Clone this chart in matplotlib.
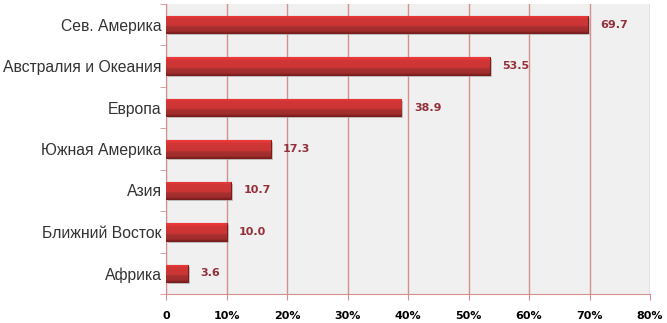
import matplotlib
matplotlib.use("Agg")
import matplotlib.pyplot as plt
import numpy as np
from matplotlib import transforms
from matplotlib.colors import LinearSegmentedColormap

categories = ["Сев. Америка", "Австралия и Океания", "Европа", "Южная Америка",
              "Азия", "Ближний Восток", "Африка"]
values = [69.7, 53.5, 38.9, 17.3, 10.7, 10.0, 3.6]
xticks = [0, 10, 20, 30, 40, 50, 60, 70, 80]
xticklabels = ["0", "10%", "20%", "30%", "40%", "50%", "60%", "70%", "80%"]

fig = plt.figure(figsize=(6.67, 3.23), dpi=100)
ax = fig.add_axes([166/667, 1-294/323, (650-166)/667, 290/323])
ax.set_facecolor("#f0f0f0")

n = len(categories)
ypos = np.arange(n)[::-1]
h = 0.42

grid_c = "#d4908f"
ax.set_xlim(0, 80)
ax.set_ylim(-0.5, n - 0.5)
ax.set_xticks(xticks)
ax.set_xticklabels(xticklabels, fontsize=8, fontweight="bold", family="DejaVu Sans")
ax.set_yticks(ypos)
ax.set_yticklabels(categories, fontsize=11.3, family="Liberation Sans", color="#333333")
ax.set_yticks(np.arange(-0.5, n, 1), minor=True)
ax.tick_params(axis="y", which="major", length=0, pad=3)
ax.tick_params(axis="y", which="minor", length=4, color=grid_c)
ax.tick_params(axis="x", length=4, color=grid_c, pad=8)
ax.xaxis.grid(True, color=grid_c, lw=1.0)
ax.set_axisbelow(True)
for s in ["top", "right"]:
    ax.spines[s].set_visible(False)
ax.spines["left"].set_color(grid_c)
ax.spines["bottom"].set_color(grid_c)

shadow_tr = transforms.offset_copy(ax.transData, fig=fig, x=2, y=-2, units="dots")
ax.barh(ypos, values, height=h, color="#a8a8a8", alpha=0.6, transform=shadow_tr, zorder=2)

cmap = LinearSegmentedColormap.from_list(
    "bar",
    [(0.0, "#f03a3a"), (0.12, "#e23636"), (0.18, "#d03636"), (0.58, "#cc3535"),
     (0.66, "#a83030"), (0.9, "#a02c2c"), (1.0, "#7a1e1e")])
grad = np.linspace(0, 1, 64).reshape(-1, 1)
bars = ax.barh(ypos, values, height=h, color="#c83333", edgecolor="#7a1c1c", lw=0.8, zorder=3)
for b in bars:
    x0, y0 = b.get_x(), b.get_y()
    w, hh = b.get_width(), b.get_height()
    im = ax.imshow(grad, cmap=cmap, aspect="auto", extent=[x0, x0 + w, y0, y0 + hh],
                   origin="upper", zorder=3.5, interpolation="bilinear")
    im.set_clip_path(b)

ax.set_xlim(0, 80)
ax.set_ylim(-0.5, n - 0.5)

for y, v in zip(ypos, values):
    ax.annotate(f"{v:.1f}", xy=(v, y), xytext=(9, 0), textcoords="offset points",
                va="center", ha="left", fontsize=8, fontweight="bold",
                color="#93303a", family="DejaVu Sans", zorder=5)

fig.savefig("out.png", dpi=100)
